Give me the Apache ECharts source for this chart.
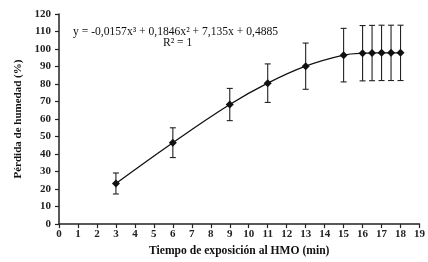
<!DOCTYPE html>
<html>
<head>
<meta charset="utf-8">
<style>
  html, body { margin: 0; padding: 0; background: #fff; }
  #chart { width: 428px; height: 262px; }
</style>
</head>
<body>
<div id="chart"></div>
<script src="https://cdn.jsdelivr.net/npm/echarts@6/dist/echarts.min.js"></script>
<script>
    // datos
    var tiempo = [3, 6, 9, 11, 13, 15, 16, 16.5, 17, 17.5, 18];
    var perdida = [23.2, 46.5, 68.3, 80.5, 90.2, 96.5, 97.6, 97.7, 97.8, 97.8, 97.8];
    var error = [6, 8.5, 9.2, 11, 13.2, 15.3, 15.8, 15.8, 15.8, 15.8, 15.8];
    var ecuacion = 'y = -0,0157x³ + 0,1846x² + 7,135x + 0,4885';
    var r2 = 'R² = 1';

    var serif = '"Liberation Serif", "DejaVu Serif", serif';
    var chart = echarts.init(document.getElementById('chart'));

    var puntos = tiempo.map(function (t, i) { return [t, perdida[i]]; });
    var barras = tiempo.map(function (t, i) { return [t, perdida[i] - error[i], perdida[i] + error[i]]; });

    chart.setOption({
        animation: false,
        grid: { left: 59, right: 7, top: 14, bottom: 32 },
        graphic: [
            { type: 'text', left: 73, top: 26, style: { text: ecuacion, font: '11.6px ' + serif, fill: '#111' } },
            { type: 'text', left: 163, top: 37, style: { text: r2, font: '11.6px ' + serif, fill: '#111' } }
        ],
        xAxis: {
            type: 'value', min: 0, max: 19, interval: 1,
            name: 'Tiempo de exposición al HMO (min)',
            nameLocation: 'middle', nameGap: 20,
            nameTextStyle: { fontFamily: serif, fontWeight: 'bold', fontSize: 11.6, color: '#111' },
            axisLine: { lineStyle: { color: '#222', width: 1.5 } },
            axisTick: { length: 4, lineStyle: { color: '#222', width: 1.2 } },
            axisLabel: { fontFamily: serif, fontWeight: 'bold', fontSize: 11, color: '#222', margin: 5 },
            splitLine: { show: false }
        },
        yAxis: {
            type: 'value', min: 0, max: 120, interval: 10,
            name: 'Pérdida de humedad (%)',
            nameLocation: 'middle', nameGap: 33,
            nameTextStyle: { fontFamily: serif, fontWeight: 'bold', fontSize: 11, color: '#111' },
            axisLine: { show: true, lineStyle: { color: '#222', width: 1.5 } },
            axisTick: { show: true, length: 4, lineStyle: { color: '#222', width: 1.2 } },
            axisLabel: { fontFamily: serif, fontWeight: 'bold', fontSize: 11, color: '#222', margin: 8 },
            splitLine: { show: false }
        },
        series: [
            {
                type: 'custom',
                data: barras,
                z: 1,
                renderItem: function (params, api) {
                    var x = api.value(0);
                    var lo = api.coord([x, api.value(1)]);
                    var hi = api.coord([x, api.value(2)]);
                    var w = 3;
                    var st = { stroke: '#222', lineWidth: 1.1 };
                    return {
                        type: 'group',
                        children: [
                            { type: 'line', shape: { x1: hi[0], y1: hi[1], x2: lo[0], y2: lo[1] }, style: st },
                            { type: 'line', shape: { x1: hi[0] - w, y1: hi[1], x2: hi[0] + w, y2: hi[1] }, style: st },
                            { type: 'line', shape: { x1: lo[0] - w, y1: lo[1], x2: lo[0] + w, y2: lo[1] }, style: st }
                        ]
                    };
                }
            },
            {
                type: 'line',
                data: puntos,
                smooth: 0.4,
                z: 2,
                symbol: 'diamond',
                symbolSize: 8,
                itemStyle: { color: '#111' },
                lineStyle: { color: '#111', width: 1.3 }
            }
        ]
    });
</script>
</body>
</html>
